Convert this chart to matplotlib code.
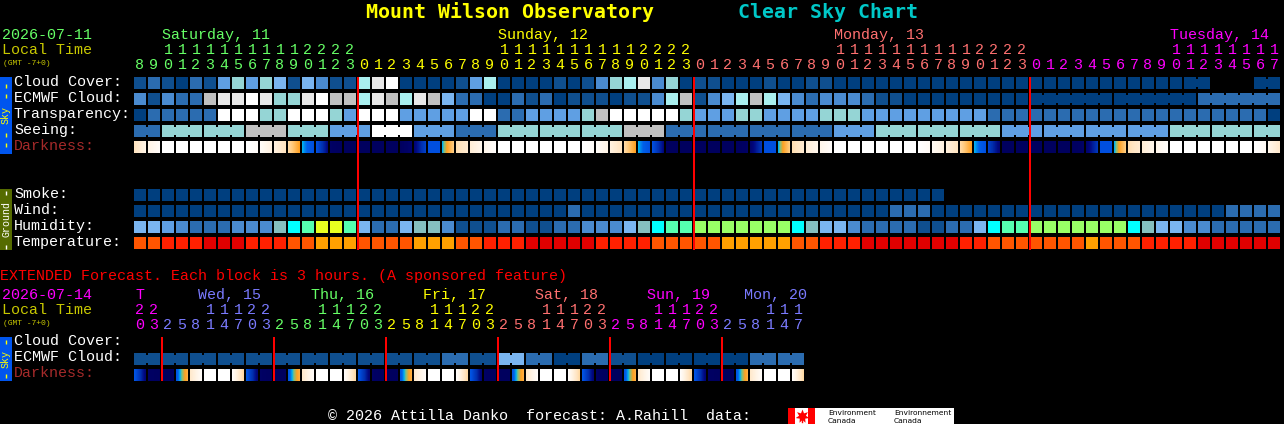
import matplotlib
matplotlib.use("Agg")
import matplotlib.pyplot as plt
import numpy as np
from matplotlib.colors import LinearSegmentedColormap

# block colours, letter = one condition level
sky_colors = {"a": "#003f7f", "b": "#0f4f8f", "c": "#2b6cb0", "d": "#4a8bd0", "e": "#5f9fe3",
              "f": "#7ab5f0", "g": "#95d5d5", "h": "#a9efef", "i": "#c0c0c0", "j": "#e8e8e8",
              "k": "#ffffff"}
ground_colors = {"t": "#85bfbf", "u": "#00ffff", "v": "#55ffb0", "w": "#e8ff20", "x": "#99ff66",
                 "O": "#ffa000", "o": "#ff5500", "r": "#ff2000", "R": "#e00000"}
block_colors = {**sky_colors, **ground_colors}

cloud_cover = "bcbacbegeg" "fbfdbbhjka" "aaabehaaaa" "babdghjdga" "bbaaabaabb" "aaaaaaaaaa" "aaaaaaaaaa" "aaaaaaa..." "aa"
ecmwf_cloud = "dbdccijjkj" "ggjkiihjih" "jifccaacbc" "abbbabbdhi" "bdfhihfdcd" "ddcbbaaaaa" "aaaaaaaaaa" "aaaaaacccc" "cc"
transparency = "accccckkkg" "gkkkgekkke" "eeeekkccee" "eegikkkkkg" "eeeggeeeeg" "ggeeeeeeee" "eccccccccc" "cccccccccc" "ca"
seeing = "cc" "ggg" "ggg" "iii" "ggg" "eee" "kkk" "eee" "ccc" "ggg" "ggg" "ggg" "iii" "ccc" "ccc" "ccc" "ccc" "eee" \
         "ggg" "ggg" "ggg" "eee" "eee" "eee" "eee" "ggg" "ggg" "gg"
darkness_left = [.78, .9, 1, 1, 1, 1, 1, 1, 1, .97, .88, .72, .4, .3, .06, .05, .05, .05, .05, .05, .1, .3,
                 .4, .75, .85, .92, 1, 1, 1, 1, 1, 1, 1, .97, .88, .72, .4, .3, .05, .05, .05, .05, .05, .05,
                 .08, .3, .4, .75, .85, .92, 1, 1, 1, 1, 1, 1, 1, .95, .87, .72, .4, .25, .05, .05, .05, .05,
                 .05, .05, .08, .3, .4, .75, .85, .92, 1, 1, 1, 1, 1, 1, 1, .92]
darkness_right = [.9, .97, 1, 1, 1, 1, 1, 1, .97, .88, .78, .5, .3, .12, .05, .05, .05, .05, .05, .08, .25, .3,
                  .65, .83, .92, .98, 1, 1, 1, 1, 1, 1, .97, .9, .78, .5, .3, .12, .05, .05, .05, .05, .05, .06,
                  .22, .3, .65, .83, .92, .98, 1, 1, 1, 1, 1, 1, .96, .88, .78, .5, .3, .1, .05, .05, .05, .05,
                  .05, .06, .22, .3, .65, .83, .92, .98, 1, 1, 1, 1, 1, 1, .95, .82]
smoke = "aaaaaaaaaa" "aaaaaaaaaa" "aaaaaaaaaa" "aaaaaaaaaa" "aaaaaaaaaa" "aaaaaaaa"
wind = "aaaaaaaaaa" "aaaaaaaaaa" "aaaaaaaaaa" "acaaaaaaaa" "aaaaaaaaaa" "aaaacccaaa" "aaaaaaaaaa" "aaaaaaaacc" "cc"
humidity = "ffedcccddd" "tuvwwvfccf" "ttdbbbccbb" "ccdddftuvv" "xxxxxxxutf" "fdccccbbcc" "fuvvxxxxxx" "xutffddccc" "cc"
temperature = "oorrrRRRrr" "rooOOOoooo" "OOOoorrrRR" "RRRrrrrooo" "ooOOOOOoor" "rrRRRRRRRr" "roooooooOo" "oorrrrRRRR" "RR"

cloud_runs = [1] * 75 + [2, 3, 2]
ecmwf_runs = [1] * 64 + [6, 6, 6]
seeing_runs = [2] + [3] * 26 + [2]

hour_tens = "  11111111112222" "          11111111112222" "          11111111112222" "          11111111"
hour_ones = "8901234567890123" "012345678901234567890123" "012345678901234567890123" "012345678901234567"
day_labels = ["Saturday, 11", "Sunday, 12", "Monday, 13", "Tuesday, 14"]
day_colors = ["#66ff66", "#ffff00", "#ff7070", "#ff00ff"]
day_spans = [16, 24, 24, 18]

ext_cloud = "bbbbbbbbbbbcbfcacbaaaacc"
ext_tens = "22   11122   11122   11122   11122   11122   111"
ext_ones = "03" "25814703" "25814703" "25814703" "25814703" "25814703" "258147"
ext_darkness_left = [.32, .06, .05, .33, .82, 1, 1, .98] * 6
ext_darkness_right = [.1, .05, .05, .55, .97, 1, 1, .72] * 6
ext_labels = ["T", "Wed, 15", "Thu, 16", "Fri, 17", "Sat, 18", "Sun, 19", "Mon, 20"]
ext_colors = ["#ff00ff", "#7a7aff", "#66ff66", "#ffff00", "#ff7070", "#ff00ff", "#7a7aff"]
ext_spans = [2, 8, 8, 8, 8, 8, 6]

plt.rcParams["font.family"] = ["Liberation Mono", "DejaVu Sans Mono"]

X0, PITCH, CELL = 134, 14, 12
FS = 10.8

ramp = LinearSegmentedColormap.from_list("dark", [
    (0, "#000040"), (.05, "#000060"), (.12, "#000880"), (.2, "#0030b0"), (.3, "#0050e0"), (.36, "#0060e8"),
    (.4, "#00b0f0"), (.44, "#80c080"), (.5, "#ffa020"), (.65, "#ffcc80"), (.78, "#ffe4c0"), (.9, "#fff4e6"),
    (1, "#ffffff")])

fig = plt.figure(figsize=(12.84, 4.24), dpi=100, facecolor="black")
ax = fig.add_axes([0, 0, 1, 1], facecolor="black")


def draw_row(values, y, runs=None):
    for i, v in enumerate(values):
        if v != ".":
            ax.bar(X0 + i * PITCH, CELL, CELL, y, align="edge", color=block_colors[v], lw=0)
    if runs is None:
        return
    # blocks of one forecast are joined by a short bridge, leaving a notch top and bottom
    start = 0
    for run in runs:
        for i in range(start, start + run - 1):
            if i + 1 < len(values) and values[i] != "." and values[i + 1] != ".":
                ax.bar(X0 + i * PITCH + CELL, 8, PITCH - CELL, y + 2, align="edge",
                       color=block_colors[values[i]], lw=0)
        start += run


def draw_darkness(left, right, y):
    for i, (a, b) in enumerate(zip(left, right)):
        x = X0 + i * PITCH
        ax.imshow(np.linspace(a, b, CELL)[None, :], cmap=ramp, vmin=0, vmax=1, aspect="auto",
                  interpolation="nearest", extent=(x, x + CELL, y + CELL, y))


def label(x, y, s, color="white", size=FS, **kw):
    ax.text(x, y - 1, s, color=color, fontsize=size, va="baseline", **kw)


def draw_hours(tens, ones, spans, colors, y_tens, y_ones):
    col = 0
    for span, c in zip(spans, colors):
        for i in range(col, col + span):
            cx = X0 + i * PITCH + CELL / 2
            if tens[i] != " ":
                label(cx, y_tens, tens[i], c, ha="center")
            label(cx, y_ones, ones[i], c, ha="center")
        col += span


def side_tab(y, h, color, text, text_color, text_y, dash_ys):
    ax.bar(0, h, 12, y, align="edge", color=color, lw=0)
    ax.text(6, text_y, text, color=text_color, fontsize=7.2, rotation=90, ha="center", va="center")
    for d in dash_ys:
        ax.plot([6, 6], [d, d + 4], color=text_color, lw=1, solid_capstyle="butt")


# title
label(366, 19, "Mount Wilson Observatory", "#ffff00", 14.35, fontweight="bold", family="DejaVu Sans Mono")
label(738, 19, "Clear Sky Chart", "#00c8c8", 14.35, fontweight="bold", family="DejaVu Sans Mono")

# main header
label(2, 40, "2026-07-11", "#66ff66")
label(2, 55, "Local Time", "#c8c800")
label(3, 66, "(GMT -7+0)", "#c8c800", 5.8)
for lab, c, x in zip(day_labels, day_colors, [162, 498, 834, 1170]):
    label(x, 40, lab, c)
draw_hours(hour_tens, hour_ones, day_spans, day_colors, 55, 70)

# main sky rows
draw_row(cloud_cover, 77, cloud_runs)
draw_row(ecmwf_cloud, 93, ecmwf_runs)
draw_row(transparency, 109)
draw_row(seeing, 125, seeing_runs)
draw_darkness(darkness_left, darkness_right, 141)
for y, lab in zip([87, 103, 119, 135], ["Cloud Cover:", "ECMWF Cloud:", "Transparency:", "Seeing:"]):
    label(14, y, lab)
label(14, 151, "Darkness:", "#a52a2a")

# ground rows
draw_row(smoke, 189)
draw_row(wind, 205)
draw_row(humidity, 221)
draw_row(temperature, 237)
for y, lab in zip([199, 215, 231, 247], ["Smoke:", "Wind:", "Humidity:", "Temperature:"]):
    label(14, y, lab)

for c in [16, 40, 64]:
    ax.bar(X0 + c * PITCH - 1, 173, 2, 77, align="edge", color="#ff0000", lw=0, zorder=5)

# side tabs
side_tab(77, 77, "#0055ee", "Sky", "#ffff00", 115, [84, 94, 133, 143])
side_tab(189, 61, "#556b00", "Ground", "white", 219, [191, 245])
side_tab(337, 44, "#0055ee", "Sky", "#ffff00", 359, [340, 374])

# extended forecast
label(0, 281, "EXTENDED Forecast. Each block is 3 hours. (A sponsored feature)", "#ff0000")
label(2, 300, "2026-07-14", "#ff00ff")
label(2, 315, "Local Time", "#c8c800")
label(3, 326, "(GMT -7+0)", "#c8c800", 5.8)
for lab, c, x in zip(ext_labels, ext_colors, [135, 198, 311, 423, 535, 647, 744]):
    label(x, 300, lab, c)
draw_hours(ext_tens, ext_ones, ext_spans, ext_colors, 315, 330)

ext_row = "".join(v * 2 for v in ext_cloud)
draw_row(ext_row, 353, [2] * 24)
draw_darkness(ext_darkness_left, ext_darkness_right, 369)
label(14, 346, "Cloud Cover:")
label(14, 362, "ECMWF Cloud:")
label(14, 378, "Darkness:", "#a52a2a")
for c in [2, 10, 18, 26, 34, 42]:
    ax.bar(X0 + c * PITCH - 1, 44, 2, 337, align="edge", color="#ff0000", lw=0, zorder=5)

# footer and logo
label(328, 421, "\u00a9 2026 Attilla Danko  forecast: A.Rahill  data:")
ax.bar(788, 16, 166, 408, align="edge", color="white", lw=0)
ax.bar(788, 16, 7, 408, align="edge", color="#ff0000", lw=0)
ax.bar(808, 16, 7, 408, align="edge", color="#ff0000", lw=0)
ax.plot([801.5], [415.5], marker=(7, 1, 0), ms=10, color="#ff0000", mew=0)
ax.plot([801.5, 801.5], [417, 422], color="#ff0000", lw=1)
for x, lab in zip([828, 894], ["Environment", "Environnement"]):
    ax.text(x, 415, lab, color="black", fontsize=5.4, va="baseline", family="DejaVu Sans")
    ax.text(x, 423, "Canada", color="black", fontsize=5.4, va="baseline", family="DejaVu Sans")

ax.set_xlim(0, 1284)
ax.set_ylim(424, 0)
ax.axis("off")
fig.savefig("out.png", dpi=100, facecolor="black")
